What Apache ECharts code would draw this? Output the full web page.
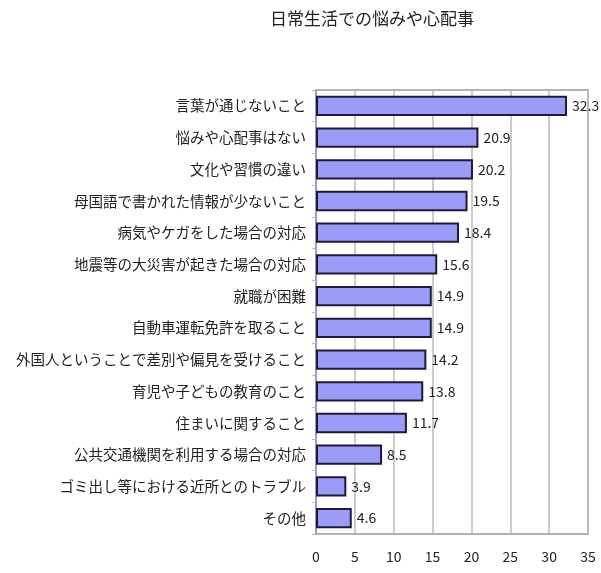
<!DOCTYPE html>
<html>
<head>
<meta charset="utf-8">
<script src="https://cdn.jsdelivr.net/npm/echarts@6/dist/echarts.min.js"></script>
<style>
  html, body { margin: 0; padding: 0; background: #fff; }
  #chart { width: 601px; height: 573px; }
</style>
</head>
<body>
<div id="chart"></div>
<script>
// categories top to bottom
const categories = [
    '言葉が通じないこと',
    '悩みや心配事はない',
    '文化や習慣の違い',
    '母国語で書かれた情報が少ないこと',
    '病気やケガをした場合の対応',
    '地震等の大災害が起きた場合の対応',
    '就職が困難',
    '自動車運転免許を取ること',
    '外国人ということで差別や偏見を受けること',
    '育児や子どもの教育のこと',
    '住まいに関すること',
    '公共交通機関を利用する場合の対応',
    'ゴミ出し等における近所とのトラブル',
    'その他'
];
const values = [32.3, 20.9, 20.2, 19.5, 18.4, 15.6, 14.9, 14.9, 14.2, 13.8, 11.7, 8.5, 3.9, 4.6];

const font = "'Noto Sans CJK JP', sans-serif";

var myChart = echarts.init(document.getElementById('chart'));

option = {
    animation: false,
    title: {
        text: '日常生活での悩みや心配事',
        left: 367,
        textAlign: 'center',
        top: 5,
        textStyle: {
            fontFamily: font,
            fontSize: 17,
            fontWeight: 'normal',
            color: '#222'
        }
    },
    grid: {
        left: 316,
        right: 13,
        top: 90,
        bottom: 39,
        outerBoundsMode: 'none',
        containLabel: false,
        show: true,
        borderColor: '#999',
        borderWidth: 1.5
    },
    xAxis: {
        type: 'value',
        min: 0,
        max: 35,
        interval: 5,
        name: '(%)',
        nameLocation: 'end',
        nameGap: 8,
        nameTextStyle: {
            fontFamily: font,
            fontSize: 14,
            color: '#222',
            verticalAlign: 'top',
            padding: [16, 0, 0, 0]
        },
        axisLine: { show: false },
        axisTick: { show: false },
        axisLabel: {
            margin: 16,
            fontFamily: font,
            fontSize: 14,
            color: '#222'
        },
        splitLine: {
            lineStyle: { color: '#bbb', width: 1.5 }
        }
    },
    yAxis: {
        type: 'category',
        data: categories,
        inverse: true,
        axisLine: { show: true, lineStyle: { color: '#999', width: 1.5 } },
        axisTick: { show: true, length: 4, lineStyle: { color: '#bbb' } },
        axisLabel: {
            margin: 10,
            fontFamily: font,
            fontSize: 14.5,
            color: '#222'
        }
    },
    series: [
        {
            type: 'bar',
            data: values,
            barCategoryGap: '36%',
            itemStyle: {
                color: '#9c9cf8',
                borderColor: '#1c1c3a',
                borderWidth: 2
            },
            label: {
                show: true,
                position: 'right',
                distance: 5,
                fontFamily: font,
                fontSize: 14,
                color: '#222'
            }
        }
    ]
};
myChart.setOption(option);
</script>
</body>
</html>
